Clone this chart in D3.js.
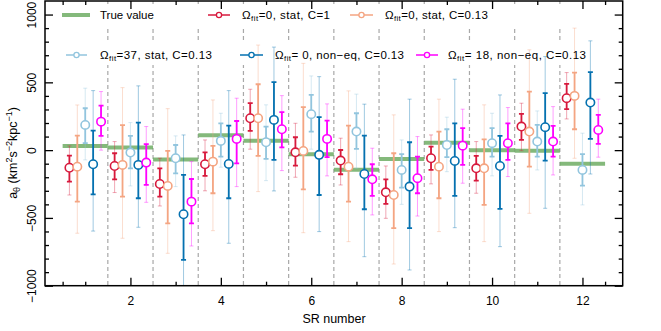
<!DOCTYPE html>
<html>
<head>
<meta charset="utf-8">
<script src="https://cdn.jsdelivr.net/npm/d3@7/dist/d3.min.js"></script>
<style>
  body { margin: 0; background: #fff; }
  svg { display: block; font-family: "Liberation Sans", Arial, sans-serif; }
</style>
</head>
<body>
<div id="chart"></div>
<script>
const srNumbers = [1, 2, 3, 4, 5, 6, 7, 8, 9, 10, 11, 12];
const trueValue = [30, 20, -70, 110, 70, -30, -145, -65, 55, 0, -5, -100];

// Omega_fit=0, stat, C=1
const redVal = [-130, -117, -250, -104, 235, -16, -77, -311, -60, -134, 174, 383];
const redInner = [[-232, -41], [-215, -23], [-343, -134], [-190, -16], [142, 346], [-114, 95], [-178, 1], [-397, -215], [-146, 26], [-225, -43], [75, 267], [302, 488]];
const redOuter = [[-331, 31], [-313, 63], [-412, -60], [-300, 75], [7, 449], [-200, 198], [-257, 88], [-503, -117], [-249, 112], [-318, 63], [-4, 346], [230, 572]];

// Omega_fit=0, stat, C=0.13
const orangeVal = [-122, -109, -264, -85, 235, -6, -122, -331, -122, -134, 137, 400];
const orangeInner = [[-380, 107], [-343, 184], [-540, -6], [-318, 31], [-43, 486], [-289, 317], [-380, 181], [-576, -23], [-355, 137], [-404, 80], [-122, 432], [154, 572]];
const orangeOuter = [[-613, 333], [-650, 461], [-761, 306], [-594, 370], [-306, 775], [-609, 640], [-675, 437], [-840, 260], [-601, 376], [-675, 334], [-466, 740], [-60, 900]];

// Omega_fit=37, stat, C=0.13
const lightVal = [186, -18, -60, 68, 58, 265, 137, -146, 38, 51, 63, -146];
const lightInner = [[51, 309], [-134, 105], [-171, 38], [-48, 198], [-65, 174], [137, 407], [9, 272], [-277, -30], [-52, 154], [-48, 162], [-48, 186], [-262, -30]];
const lightOuter = [[-72, 457], [-264, 203], [-269, 105], [-126, 272], [-225, 334], [7, 547], [-134, 413], [-400, 75], [-159, 243], [-190, 272], [-146, 289], [-404, 125]];

// Omega_fit=0, non-eq, C=0.13
const blueVal = [-104, -109, -473, -102, 223, -35, -176, -269, -80, -117, 169, 351];
const blueInner = [[-326, 144], [-355, 203], [-810, -183], [-355, 181], [-72, 501], [-331, 243], [-436, 107], [-576, 58], [-338, 198], [-434, 105], [-77, 420], [83, 575]];
const blueOuter = [[-597, 439], [-569, 474], [-1050, 112], [-687, 439], [-301, 760], [-601, 542], [-786, 339], [-884, 376], [-572, 523], [-712, 407], [-429, 690], [-176, 806]];

// Omega_fit=18, non-eq, C=0.13
const magentaVal = [210, -92, -380, 83, 154, 83, -215, -207, 33, 51, 63, 149];
const magentaInner = [[105, 328], [-257, 44], [-540, -213], [-97, 215], [21, 280], [-52, 218], [-338, -104], [-318, -48], [-109, 162], [-72, 198], [-48, 179], [46, 260]];
const magentaOuter = [[0, 432], [-385, 174], [-707, -85], [-269, 383], [-151, 402], [-190, 341], [-478, 14], [-486, 100], [-244, 302], [-195, 314], [-183, 321], [-52, 376]];

const xMajor = [2, 4, 6, 8, 10, 12];
const xMinor = [0.5, 1, 3, 5, 7, 9, 11, 12.5];
const yMajor = [-1000, -500, 0, 500, 1000];
const yMinor = d3.range(-900, 1100, 100).filter((v) => v % 500 !== 0);

const series = [
  { color: "#d7193c", offset: -0.35, val: redVal, inner: redInner, outer: redOuter, label: "=0, stat, C=1" },
  { color: "#f4a582", offset: -0.175, val: orangeVal, inner: orangeInner, outer: orangeOuter, label: "=0, stat, C=0.13" },
  { color: "#92c5de", offset: 0, val: lightVal, inner: lightInner, outer: lightOuter, label: "=37, stat, C=0.13" },
  { color: "#0571b0", offset: 0.175, val: blueVal, inner: blueInner, outer: blueOuter, label: "= 0, non\u2212eq, C=0.13" },
  { color: "#ff00ff", offset: 0.35, val: magentaVal, inner: magentaInner, outer: magentaOuter, label: "= 18, non\u2212eq, C=0.13" },
];

const W = 661, H = 331;
const plot = { left: 45, right: 622.7, top: 1, bottom: 285.7 };

const svg = d3.select("#chart").append("svg").attr("width", W).attr("height", H);

const x = d3.scaleLinear().domain([0.11, 12.89]).range([plot.left, plot.right]);
const y = d3.scaleLinear().domain([-1000, 1100]).range([plot.bottom, plot.top]);

svg.append("defs").append("clipPath").attr("id", "clip")
  .append("rect").attr("x", plot.left).attr("y", plot.top)
  .attr("width", plot.right - plot.left).attr("height", plot.bottom - plot.top);

// SR separators
svg.append("g").selectAll("line")
  .data(srNumbers.slice(0, -1))
  .join("line")
  .attr("x1", (d) => x(d + 0.5)).attr("x2", (d) => x(d + 0.5))
  .attr("y1", plot.top).attr("y2", plot.bottom)
  .attr("stroke", "#a8a8a8").attr("stroke-width", 1.2)
  .attr("stroke-dasharray", "4,3");

// legend background rows
svg.append("rect").attr("x", 55).attr("y", 4).attr("width", 540).attr("height", 24).attr("fill", "#fff");
svg.append("rect").attr("x", 55).attr("y", 42).attr("width", 540).attr("height", 23).attr("fill", "#fff");

const data = svg.append("g").attr("clip-path", "url(#clip)");

// true values
data.append("g").selectAll("line")
  .data(srNumbers)
  .join("line")
  .attr("x1", (d) => x(d - 0.5)).attr("x2", (d) => x(d + 0.5))
  .attr("y1", (d, i) => y(trueValue[i])).attr("y2", (d, i) => y(trueValue[i]))
  .attr("stroke", "#65a85a").attr("stroke-opacity", 0.8).attr("stroke-width", 4);

function bars(g, s, key, width, cap, opacity) {
  const rows = srNumbers.map((sr, i) => ({ sr, lo: s[key][i][0], hi: s[key][i][1] }));
  const gg = g.append("g").attr("stroke", s.color).attr("stroke-opacity", opacity).attr("stroke-width", width);
  gg.selectAll(".bar").data(rows).join("line").attr("class", "bar")
    .attr("x1", (d) => x(d.sr + s.offset)).attr("x2", (d) => x(d.sr + s.offset))
    .attr("y1", (d) => y(d.lo)).attr("y2", (d) => y(d.hi));
  ["lo", "hi"].forEach((end) => {
    gg.selectAll(".cap-" + end).data(rows).join("line").attr("class", "cap-" + end)
      .attr("x1", (d) => x(d.sr + s.offset) - cap).attr("x2", (d) => x(d.sr + s.offset) + cap)
      .attr("y1", (d) => y(d[end])).attr("y2", (d) => y(d[end]));
  });
}

series.forEach((s) => {
  const g = data.append("g");
  bars(g, s, "outer", 1, 2, 0.38);
  bars(g, s, "inner", 1.8, 2.5, 1);
  g.selectAll("circle").data(srNumbers).join("circle")
    .attr("cx", (d) => x(d + s.offset))
    .attr("cy", (d, i) => y(s.val[i]))
    .attr("r", 4.2)
    .attr("fill", "#fff").attr("stroke", s.color).attr("stroke-width", 1.6);
});

// axes
function styleAxis(g) {
  g.select(".domain").remove();
  g.selectAll("line").attr("stroke", "#000").attr("stroke-width", 1.3);
}
svg.append("g").attr("transform", `translate(0,${plot.bottom})`)
  .call(d3.axisBottom(x).tickValues(xMajor).tickSize(-8).tickPadding(11).tickFormat(d3.format("d")))
  .call(styleAxis)
  .selectAll("text").attr("font-size", 12).attr("fill", "#000");
svg.append("g").attr("transform", `translate(0,${plot.bottom})`)
  .call(d3.axisBottom(x).tickValues(xMinor).tickSize(-4).tickFormat(""))
  .call(styleAxis);
svg.append("g").attr("transform", `translate(0,${plot.top})`)
  .call(d3.axisTop(x).tickValues(xMajor).tickSize(-8).tickFormat(""))
  .call(styleAxis);
svg.append("g").attr("transform", `translate(0,${plot.top})`)
  .call(d3.axisTop(x).tickValues(xMinor).tickSize(-4).tickFormat(""))
  .call(styleAxis);

svg.append("g").attr("transform", `translate(${plot.left},0)`)
  .call(d3.axisLeft(y).tickValues(yMajor).tickSize(-8).tickFormat((d) => d < 0 ? "\u2212" + Math.abs(d) : d))
  .call(styleAxis)
  .selectAll("text")
  .attr("x", null).attr("dy", null)
  .attr("transform", "translate(-9,0) rotate(-90)")
  .attr("text-anchor", "middle")
  .attr("font-size", 12).attr("fill", "#000");
svg.append("g").attr("transform", `translate(${plot.left},0)`)
  .call(d3.axisLeft(y).tickValues(yMinor).tickSize(-4).tickFormat(""))
  .call(styleAxis);
svg.append("g").attr("transform", `translate(${plot.right},0)`)
  .call(d3.axisRight(y).tickValues(yMajor).tickSize(-8).tickFormat(""))
  .call(styleAxis);
svg.append("g").attr("transform", `translate(${plot.right},0)`)
  .call(d3.axisRight(y).tickValues(yMinor).tickSize(-4).tickFormat(""))
  .call(styleAxis);

svg.append("rect")
  .attr("x", plot.left).attr("y", plot.top)
  .attr("width", plot.right - plot.left).attr("height", plot.bottom - plot.top)
  .attr("fill", "none").attr("stroke", "#000").attr("stroke-width", 1.5);

// axis titles
svg.append("text").attr("x", 334).attr("y", 323).attr("text-anchor", "middle")
  .attr("font-size", 12.5).text("SR number");

const ylab = svg.append("text")
  .attr("transform", "translate(17,153) rotate(-90)")
  .attr("text-anchor", "middle").attr("font-size", 12.5);
ylab.append("tspan").text("a");
ylab.append("tspan").attr("font-size", 9).attr("dy", 3).text("\u03b8");
ylab.append("tspan").attr("dy", -3).text(" (km");
ylab.append("tspan").attr("font-size", 9).attr("dy", -5).text("2");
ylab.append("tspan").attr("dy", 5).text("s");
ylab.append("tspan").attr("font-size", 9).attr("dy", -5).text("\u22122");
ylab.append("tspan").attr("dy", 5).text("kpc");
ylab.append("tspan").attr("font-size", 9).attr("dy", -5).text("\u22121");
ylab.append("tspan").attr("dy", 5).text(")");

// legend
const legendPos = [
  { x1: 208, x2: 230, tx: 242, y: 15, len: 88 },
  { x1: 350, x2: 373, tx: 385, y: 15, len: 103 },
  { x1: 66, x2: 87, tx: 100, y: 55, len: 112 },
  { x1: 240, x2: 263, tx: 275, y: 55, len: 129 },
  { x1: 416, x2: 438, tx: 448, y: 55, len: 138 },
];
const legend = svg.append("g").attr("font-size", 11.5);
legend.append("line").attr("x1", 62).attr("x2", 90).attr("y1", 15).attr("y2", 15)
  .attr("stroke", "#65a85a").attr("stroke-opacity", 0.8).attr("stroke-width", 4);
legend.append("text").attr("x", 100).attr("y", 19).text("True value");

series.forEach((s, i) => {
  const p = legendPos[i];
  legend.append("line").attr("x1", p.x1).attr("x2", p.x2).attr("y1", p.y).attr("y2", p.y)
    .attr("stroke", s.color).attr("stroke-width", 1.5);
  legend.append("circle").attr("cx", (p.x1 + p.x2) / 2).attr("cy", p.y).attr("r", 2.6)
    .attr("fill", "#fff").attr("stroke", s.color).attr("stroke-width", 1.3);
  const t = legend.append("text").attr("x", p.tx).attr("y", p.y + 4)
    .attr("textLength", p.len).attr("lengthAdjust", "spacing");
  t.append("tspan").text("\u03a9");
  t.append("tspan").attr("font-size", 8).attr("dy", 2).text("fit");
  t.append("tspan").attr("dy", -2).text(s.label);
});
</script>
</body>
</html>
